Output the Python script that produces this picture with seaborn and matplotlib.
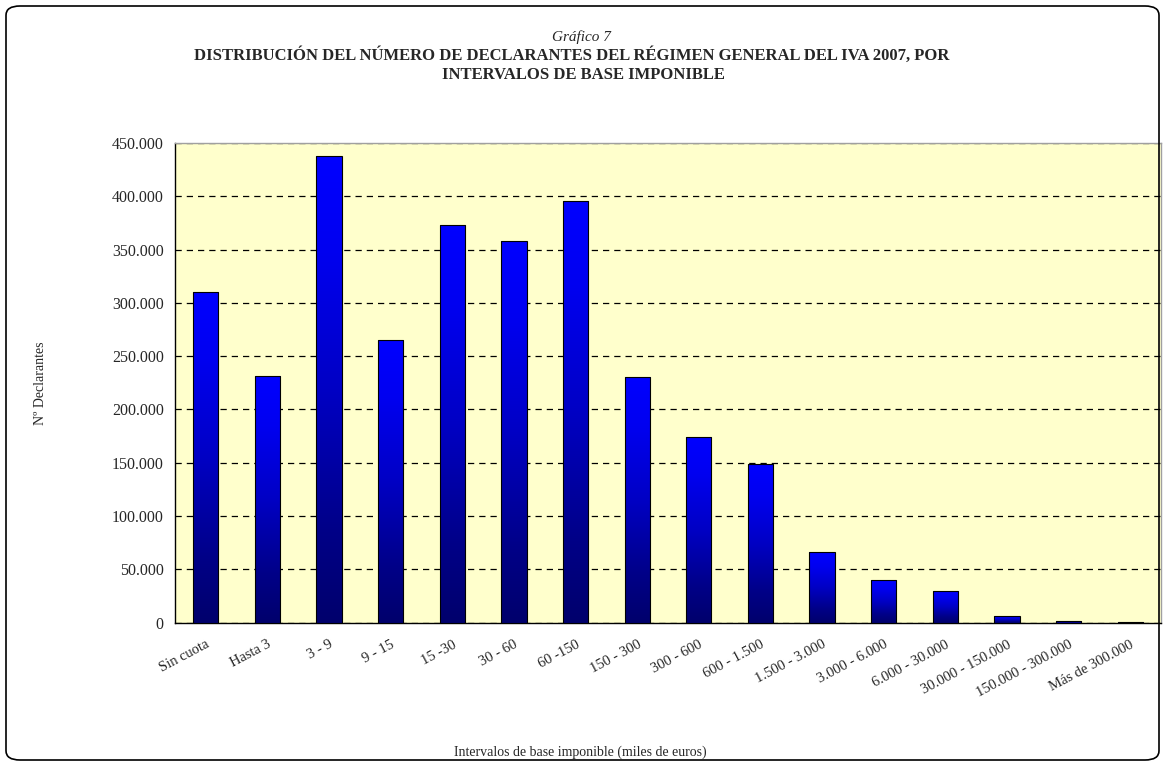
import numpy as np
import pandas as pd
import matplotlib
matplotlib.use("Agg")
import matplotlib.pyplot as plt
import seaborn as sns
from matplotlib.colors import LinearSegmentedColormap
from matplotlib.patches import FancyBboxPatch
from matplotlib.ticker import FuncFormatter, MultipleLocator

# Data
intervalos = ["Sin cuota", "Hasta 3", "3 - 9", "9 - 15", "15 -30", "30 - 60",
              "60 -150", "150 - 300", "300 - 600", "600 - 1.500", "1.500 - 3.000",
              "3.000 - 6.000", "6.000 - 30.000", "30.000 - 150.000",
              "150.000 - 300.000", "Más de 300.000"]
declarantes = [310000, 231000, 437500, 265000, 373000, 358000, 396000, 230500,
               174000, 149000, 66000, 40000, 30000, 6500, 1200, 800]

df = pd.DataFrame({"intervalo": intervalos, "declarantes": declarantes})

sns.set_style("white")
plt.rcParams["font.family"] = ["Liberation Serif", "DejaVu Serif"]

fig = plt.figure(figsize=(11.65, 7.66), dpi=100)
ax = fig.add_axes([0.1502, 0.1871, 0.8464, 0.6262])
ax.set_facecolor("#FFFFCC")

sns.barplot(data=df, x="intervalo", y="declarantes", ax=ax, width=0.41,
            color="#0000FF", edgecolor="black", linewidth=0.8, zorder=3)

# vertical gradient inside each bar (bright blue top -> navy bottom)
cmap = LinearSegmentedColormap.from_list(
    "bar", [(0, "#00006C"), (0.2, "#000088"), (0.5, "#0000C4"),
            (0.8, "#0000F0"), (1, "#0000FF")])
grad = np.linspace(0, 1, 256).reshape(-1, 1)
for p in ax.patches:
    x, w, h = p.get_x(), p.get_width(), p.get_height()
    if h <= 0:
        continue
    im = ax.imshow(grad, extent=[x, x + w, 0, h], origin="lower",
                   aspect="auto", cmap=cmap, zorder=3.5)
    im.set_clip_path(p)
    p.set_facecolor("none")
    p.set_zorder(4)

ax.set_xlim(-0.5, len(intervalos) - 0.5)
ax.set_ylim(0, 450000)

ax.yaxis.set_major_locator(MultipleLocator(50000))
ax.yaxis.set_major_formatter(FuncFormatter(lambda v, _: f"{int(v):,}".replace(",", ".")))
ax.grid(axis="y", color="black", linestyle=(0, (5, 4)), linewidth=0.9, zorder=1)

ax.set_xticks(range(len(intervalos)))
ax.set_xticklabels(intervalos, rotation=28, ha="right", va="top", rotation_mode="anchor")
ax.set_xticks(np.arange(-0.5, len(intervalos)), minor=True)
ax.tick_params(axis="x", which="major", length=0, pad=11, labelsize=10.5)
ax.tick_params(axis="x", which="minor", length=5, width=1, color="black", direction="out")
ax.tick_params(axis="y", length=5, width=1, color="black", direction="out", labelsize=11.5, pad=3)

for s in ["left", "bottom"]:
    ax.spines[s].set_color("black")
    ax.spines[s].set_linewidth(1)
for s in ["top", "right"]:
    ax.spines[s].set_color("#A0A0A0")
    ax.spines[s].set_linewidth(1)

ax.set_xlabel("")
ax.set_ylabel("")

fig.text(40 / 1165, 1 - 383 / 766, "Nº Declarantes", rotation=90,
         ha="center", va="center", fontsize=10)
fig.text(580 / 1165, 1 - 752 / 766, "Intervalos de base imponible (miles de euros)",
         ha="center", va="center", fontsize=10)

fig.text(581 / 1165, 1 - 37 / 766, "Gráfico 7", style="italic",
         ha="center", va="center", fontsize=11)
fig.text(572 / 1165, 1 - 56 / 766,
         "DISTRIBUCIÓN DEL NÚMERO DE DECLARANTES DEL RÉGIMEN GENERAL DEL IVA 2007, POR",
         weight="bold", ha="center", va="center", fontsize=12)
fig.text(583 / 1165, 1 - 75 / 766, "INTERVALOS DE BASE IMPONIBLE",
         weight="bold", ha="center", va="center", fontsize=12)

# rounded outer frame
frame = FancyBboxPatch((6 / 1165, 6 / 766), 1 - 12 / 1165, 1 - 12 / 766,
                       boxstyle="round,pad=0,rounding_size=0.012",
                       transform=fig.transFigure, facecolor="none",
                       edgecolor="black", linewidth=1.2)
fig.patches.append(frame)

fig.savefig("out.png", dpi=100)
